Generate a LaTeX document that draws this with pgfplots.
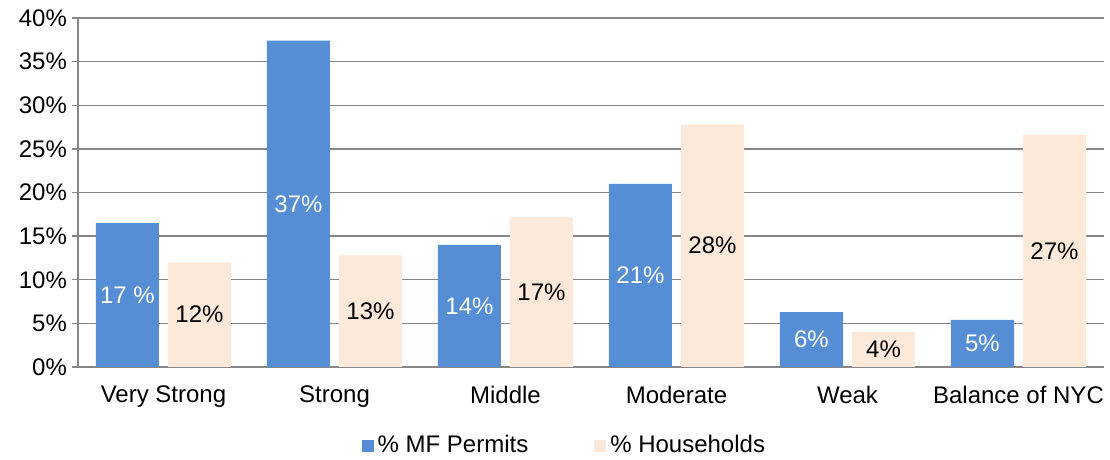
\documentclass[border=0pt]{standalone}
\usepackage{fontspec}
\setmainfont{Liberation Sans}
\usepackage{pgfplots}
\pgfplotsset{compat=1.18}

\definecolor{permitblue}{RGB}{85,142,213}
\definecolor{hhpeach}{RGB}{253,233,217}
\definecolor{gridgray}{RGB}{134,134,134}

\newcommand{\chartfont}{\fontsize{12}{14.4}\selectfont}

\begin{document}
\begin{tikzpicture}
\begin{axis}[
  name=ax,
  scale only axis,
  width=513pt, height=174.5pt,
  xmin=-0.5, xmax=5.5,
  ymin=0, ymax=40,
  ytick={0,5,...,40},
  yticklabel={\pgfmathprintnumber{\tick}\%},
  /pgf/number format/assume math mode=true,
  xtick={0,1,2,3,4,5},
  xticklabels={Very Strong, Strong, Middle, Moderate, Weak, Balance of NYC},
  x tick style={draw=none},
  extra x ticks={-0.5,0.5,1.5,2.5,3.5,4.5,5.5},
  extra x tick labels={},
  extra x tick style={major tick length=3pt, tick align=outside, grid=none,
    tick style={draw=gridgray, line width=0.7pt}},
  y tick style={draw=gridgray, line width=0.7pt},
  tick align=outside,
  major tick length=3pt,
  ymajorgrids,
  grid style={gridgray, line width=0.7pt},
  axis lines*=left,
  axis line style={gridgray, line width=0.7pt, -},
  tick label style={font=\chartfont, black},
  xticklabel style={yshift=-3pt},
  yticklabel style={xshift=1pt},
  ybar,
  bar width=31.5pt,
  point meta=explicit symbolic,
  visualization depends on={y/2 \as \halfy},
  nodes near coords,
  nodes near coords style={font=\chartfont, anchor=center,
    shift={(axis direction cs:0,-\halfy)}},
  legend style={at={(0.475,-0.225)}, anchor=center, draw=none,
    font=\chartfont, legend columns=2,
    /tikz/every even column/.append style={column sep=31pt}},
  legend image code/.code={\fill[#1] (0pt,-3pt) rectangle (6pt,3pt);},
]
\addplot[fill=permitblue, draw=none, bar shift=-18pt,
  nodes near coords style={text=white}]
  coordinates {
    (0,16.5) [17 \%]
    (1,37.4) [37\%]
    (2,14.0) [14\%]
    (3,21.0) [21\%]
    (4,6.3)  [6\%]
    (5,5.4)  [5\%]
  };
\addplot[fill=hhpeach, draw=none, bar shift=18pt,
  nodes near coords style={text=black}]
  coordinates {
    (0,12.0) [12\%]
    (1,12.8) [13\%]
    (2,17.2) [17\%]
    (3,27.8) [28\%]
    (4,4.0)  [4\%]
    (5,26.6) [27\%]
  };
\legend{\% MF Permits, \% Households}
\end{axis}
\pgfresetboundingbox
\path (ax.south west) ++(-39pt,-46.5pt) rectangle ++(555pt,230pt);
\end{tikzpicture}
\end{document}
